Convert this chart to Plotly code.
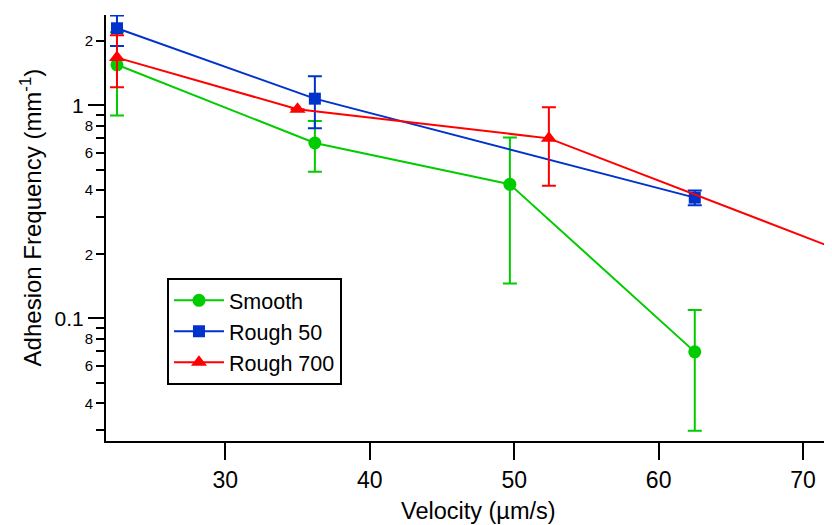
import plotly.graph_objects as go

# ---- data ----
smooth_x = [22.5, 36.2, 49.7, 62.5]
smooth_y = [1.55, 0.666, 0.426, 0.0697]
smooth_err = [0.654, 0.178, 0.28, 0.040]

rough50_x = [22.5, 36.2, 62.5]
rough50_y = [2.30, 1.075, 0.369]
rough50_err_plus = [0.34, 0.295, 0.029]
rough50_err_minus = [0.40, 0.295, 0.029]

rough700_x = [22.5, 35.0, 52.4, 75.0]
rough700_y = [1.675, 0.959, 0.70, 0.18]
rough700_err = [0.46, 0.0, 0.28, 0.05]

x_ticks = [30, 40, 50, 60, 70]
y_major_vals = [0.1, 1]
y_major_text = ["0.1", "1"]
y_labeled_minor_vals = [0.04, 0.06, 0.08, 0.2, 0.4, 0.6, 0.8, 2]
y_labeled_minor_text = ["4", "6", "8", "2", "4", "6", "8", "2"]
y_plain_minor_vals = [0.03, 0.05, 0.07, 0.09, 0.3, 0.5, 0.7, 0.9]

GREEN = "#00CC00"
BLUE = "#0033CC"
RED = "#FF0000"
FONT = "Liberation Sans, Arial, sans-serif"
YRANGE = [-1.575, 0.424]

fig = go.Figure()

fig.add_trace(go.Scatter(
    x=smooth_x, y=smooth_y, name="Smooth", mode="lines+markers",
    line=dict(color=GREEN, width=2),
    marker=dict(symbol="circle", size=13, color=GREEN),
    error_y=dict(type="data", array=smooth_err, symmetric=True,
                 color=GREEN, thickness=2, width=7),
))
fig.add_trace(go.Scatter(
    x=rough50_x, y=rough50_y, name="Rough 50", mode="lines+markers",
    line=dict(color=BLUE, width=2),
    marker=dict(symbol="square", size=12, color=BLUE),
    error_y=dict(type="data", array=rough50_err_plus, arrayminus=rough50_err_minus,
                 symmetric=False, color=BLUE, thickness=2, width=7),
))
fig.add_trace(go.Scatter(
    x=rough700_x, y=rough700_y, name="Rough 700", mode="lines+markers",
    line=dict(color=RED, width=2),
    marker=dict(symbol="triangle-up", size=14, color=RED),
    error_y=dict(type="data", array=rough700_err, symmetric=True,
                 color=RED, thickness=2, width=7),
))
# helper trace so the minor-label axis is drawn
fig.add_trace(go.Scatter(x=[None], y=[None], yaxis="y2", showlegend=False,
                         hoverinfo="skip"))

fig.update_layout(
    width=824, height=517,
    margin=dict(l=98, r=0, t=7, b=84),
    paper_bgcolor="white", plot_bgcolor="white",
    font=dict(family=FONT, color="black", size=22),
    showlegend=True,
    legend=dict(x=0.084, y=0.383, xanchor="left", yanchor="top",
                bgcolor="white", bordercolor="black", borderwidth=2,
                font=dict(family=FONT, size=21.5, color="black"),
                itemwidth=50, tracegroupgap=0),
    xaxis=dict(range=[21.74, 72.0], tickvals=x_ticks,
               ticks="outside", ticklen=17, tickwidth=2, tickcolor="black",
               showline=True, linewidth=2, linecolor="black",
               showgrid=False, zeroline=False,
               tickfont=dict(family=FONT, size=23, color="black")),
    yaxis=dict(type="log", range=YRANGE, tickvals=y_major_vals, ticktext=y_major_text,
               ticks="outside", ticklen=16, tickwidth=2, tickcolor="black",
               showline=True, linewidth=2, linecolor="black",
               showgrid=False, zeroline=False,
               tickfont=dict(family=FONT, size=21, color="black")),
    yaxis2=dict(type="log", range=YRANGE, overlaying="y", anchor="x", side="left",
                tickvals=y_labeled_minor_vals, ticktext=y_labeled_minor_text,
                ticks="outside", ticklen=9, tickwidth=2, tickcolor="black",
                minor=dict(tickmode="array", tickvals=y_plain_minor_vals,
                           ticks="outside", ticklen=9, tickwidth=2,
                           tickcolor="black", showgrid=False),
                showline=False, showgrid=False, zeroline=False,
                tickfont=dict(family=FONT, size=15, color="black")),
    annotations=[
        dict(text="Velocity (µm/s)", xref="paper", yref="paper",
             x=0.513, y=-0.164, xanchor="center", yanchor="middle",
             showarrow=False, font=dict(family=FONT, size=23.5, color="black")),
        dict(text="Adhesion Frequency (mm<sup>-1</sup>)", xref="paper", yref="paper",
             x=-0.104, y=0.526, xanchor="center", yanchor="middle", textangle=-90,
             showarrow=False, font=dict(family=FONT, size=24, color="black")),
    ],
)

fig.write_html("out.html")
